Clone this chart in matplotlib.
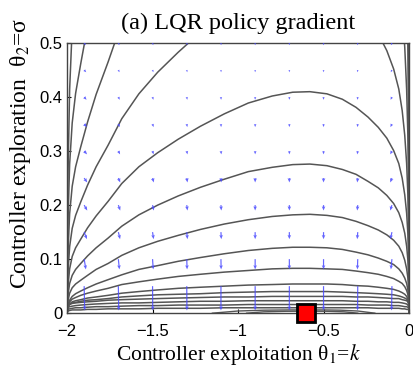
import numpy as np
import matplotlib
matplotlib.use("Agg")
import matplotlib.pyplot as plt

k_grid = [-2.0, -1.995, -1.985, -1.97, -1.95, -1.92, -1.88, -1.83, -1.76, -1.68,
          -1.58, -1.47, -1.35, -1.22, -1.08, -0.94, -0.8, -0.68, -0.58, -0.48,
          -0.39, -0.31, -0.24, -0.18, -0.13, -0.09, -0.06, -0.04, -0.025, -0.014,
          -0.007, -0.003, -0.001, 0.0]

# theta_2 = sigma of each level curve of the expected return (outermost first)
level_1 = [0, 0.248, 0.414, 0.528, 0.611, 0.693, 0.797, 0.911, 1.045, 1.211, 1.366, 1.501, 1.625, 1.749, 1.863, 1.962, 2.029,
           2.064, 2.07, 2.049, 1.998, 1.925, 1.832, 1.739, 1.635, 1.521, 1.397, 1.263, 1.107, 0.932, 0.745, 0.538, 0.331, 0]
level_2 = [0, 0.166, 0.276, 0.352, 0.407, 0.462, 0.531, 0.607, 0.697, 0.807, 0.911, 1.001, 1.083, 1.166, 1.242, 1.308, 1.352,
           1.376, 1.38, 1.366, 1.332, 1.283, 1.221, 1.159, 1.090, 1.014, 0.932, 0.842, 0.738, 0.621, 0.497, 0.359, 0.221, 0]
level_3 = [0, 0.110, 0.184, 0.235, 0.271, 0.308, 0.354, 0.405, 0.465, 0.538, 0.607, 0.667, 0.722, 0.777, 0.828, 0.872, 0.902,
           0.917, 0.92, 0.911, 0.888, 0.856, 0.814, 0.773, 0.727, 0.676, 0.621, 0.561, 0.492, 0.414, 0.331, 0.239, 0.147, 0]
level_4 = [0, 0.074, 0.123, 0.157, 0.181, 0.206, 0.237, 0.271, 0.311, 0.360, 0.406, 0.446, 0.483, 0.520, 0.554, 0.583, 0.603,
           0.613, 0.615, 0.609, 0.593, 0.572, 0.544, 0.517, 0.486, 0.452, 0.415, 0.375, 0.329, 0.277, 0.221, 0.160, 0.098, 0]
level_5 = [0, 0.049, 0.082, 0.105, 0.121, 0.137, 0.158, 0.180, 0.207, 0.240, 0.271, 0.297, 0.322, 0.346, 0.369, 0.389, 0.402,
           0.409, 0.41, 0.406, 0.396, 0.381, 0.363, 0.344, 0.324, 0.301, 0.277, 0.250, 0.219, 0.185, 0.148, 0.107, 0.066, 0]
level_6 = [0, 0.033, 0.055, 0.070, 0.081, 0.092, 0.106, 0.121, 0.139, 0.161, 0.182, 0.200, 0.217, 0.233, 0.248, 0.262, 0.270,
           0.275, 0.276, 0.273, 0.266, 0.257, 0.244, 0.232, 0.218, 0.203, 0.186, 0.168, 0.148, 0.124, 0.099, 0.072, 0.044, 0]
level_7 = [0, 0.022, 0.037, 0.047, 0.054, 0.061, 0.070, 0.081, 0.092, 0.107, 0.121, 0.133, 0.144, 0.155, 0.165, 0.173, 0.179,
           0.182, 0.183, 0.181, 0.177, 0.170, 0.162, 0.154, 0.145, 0.135, 0.124, 0.112, 0.098, 0.082, 0.066, 0.048, 0.029, 0]
level_8 = [0, 0.015, 0.024, 0.031, 0.036, 0.041, 0.047, 0.054, 0.062, 0.071, 0.081, 0.088, 0.096, 0.103, 0.110, 0.116, 0.120,
           0.122, 0.122, 0.121, 0.118, 0.113, 0.108, 0.102, 0.096, 0.090, 0.082, 0.074, 0.065, 0.055, 0.044, 0.032, 0.020, 0]
level_9 = [0, 0.014, 0.021, 0.026, 0.029, 0.033, 0.037, 0.041, 0.046, 0.053, 0.058, 0.063, 0.068, 0.072, 0.076, 0.079, 0.082,
           0.083, 0.083, 0.082, 0.081, 0.078, 0.075, 0.072, 0.068, 0.064, 0.059, 0.055, 0.049, 0.042, 0.035, 0.026, 0.018, 0]
level_10 = [0, 0.012, 0.017, 0.021, 0.023, 0.025, 0.028, 0.030, 0.033, 0.037, 0.040, 0.043, 0.046, 0.048, 0.050, 0.052, 0.053,
            0.054, 0.054, 0.054, 0.053, 0.051, 0.050, 0.048, 0.046, 0.044, 0.041, 0.038, 0.035, 0.031, 0.026, 0.021, 0.015, 0]
level_11 = [0, 0.012, 0.017, 0.019, 0.020, 0.022, 0.024, 0.025, 0.027, 0.030, 0.032, 0.034, 0.035, 0.036, 0.038, 0.039, 0.040,
            0.040, 0.040, 0.040, 0.039, 0.038, 0.037, 0.036, 0.035, 0.034, 0.032, 0.030, 0.028, 0.026, 0.023, 0.019, 0.015, 0]
level_12 = [0, 0.013, 0.016, 0.018, 0.019, 0.020, 0.021, 0.022, 0.024, 0.025, 0.026, 0.027, 0.028, 0.029, 0.030, 0.030, 0.031,
            0.031, 0.031, 0.031, 0.031, 0.030, 0.030, 0.029, 0.028, 0.027, 0.027, 0.025, 0.024, 0.023, 0.021, 0.018, 0.015, 0]
level_13 = [0, 0.010, 0.012, 0.013, 0.014, 0.015, 0.016, 0.017, 0.018, 0.019, 0.019, 0.020, 0.021, 0.022, 0.022, 0.023, 0.023,
            0.023, 0.023, 0.023, 0.023, 0.022, 0.022, 0.021, 0.021, 0.020, 0.020, 0.019, 0.018, 0.017, 0.015, 0.013, 0.011, 0]
level_14 = [0, 0.007, 0.008, 0.009, 0.010, 0.010, 0.011, 0.012, 0.012, 0.013, 0.014, 0.014, 0.015, 0.015, 0.015, 0.016, 0.016,
            0.016, 0.016, 0.016, 0.016, 0.016, 0.015, 0.015, 0.015, 0.014, 0.014, 0.013, 0.012, 0.012, 0.011, 0.009, 0.008, 0]
level_15 = [0, 0.004, 0.005, 0.006, 0.006, 0.006, 0.007, 0.007, 0.008, 0.008, 0.008, 0.009, 0.009, 0.009, 0.010, 0.010, 0.010,
            0.010, 0.010, 0.010, 0.010, 0.010, 0.010, 0.009, 0.009, 0.009, 0.009, 0.008, 0.008, 0.007, 0.007, 0.006, 0.005, 0]

# small level curves closing off around the optimum
arc1_k = [-1.15, -1.0, -0.85, -0.7, -0.6, -0.5, -0.4, -0.3, -0.2]
arc1_s = [0, 0.004, 0.0055, 0.006, 0.006, 0.006, 0.0055, 0.004, 0]
arc2_k = [-0.95, -0.85, -0.72, -0.6, -0.48, -0.38, -0.3]
arc2_s = [0, 0.0025, 0.0035, 0.0037, 0.0035, 0.0025, 0]

# gradient arrows
arrow_k = [-1.9, -1.7, -1.5, -1.3, -1.1, -0.9, -0.7, -0.5, -0.3, -0.1]
arrow_s = [0.5, 0.45, 0.4, 0.35, 0.3, 0.25, 0.2, 0.15, 0.1, 0.05]
grad_k = [
    [0.010, 0.006, 0.004, 0.003, 0.001, 0, 0, 0, -0.002, -0.006],
    [0.012, 0.007, 0.005, 0.003, 0.001, 0, 0, 0, -0.002, -0.007],
    [0.014, 0.008, 0.005, 0.003, 0.001, 0, 0, 0, -0.002, -0.008],
    [0.016, 0.009, 0.006, 0.003, 0.001, 0, 0, 0, -0.002, -0.009],
    [0.017, 0.010, 0.006, 0.004, 0.002, 0, 0, 0, -0.003, -0.010],
    [0.018, 0.011, 0.007, 0.004, 0.002, 0, 0, 0, -0.003, -0.010],
    [0.018, 0.011, 0.007, 0.004, 0.002, 0, 0, 0, -0.003, -0.010],
    [0.016, 0.010, 0.006, 0.004, 0.002, 0, 0, 0, -0.003, -0.009],
    [0.010, 0.006, 0.004, 0.002, 0.001, 0, 0, 0, -0.002, -0.006],
    [0.003, 0.002, 0.001, 0.001, 0, 0, 0, 0, -0.001, -0.002],
]
grad_s = [-0.004, -0.004, -0.005, -0.0055, -0.006, -0.008, -0.010, -0.013, -0.019, -0.045]

optimum_k = -0.6
optimum_s = 0.0

xticks = [-2, -1.5, -1, -0.5, 0]
xticklabels = ['\u22122', '\u22121.5', '\u22121', '\u22120.5', '0']
yticks = [0, 0.1, 0.2, 0.3, 0.4, 0.5]
yticklabels = ['0', '0.1', '0.2', '0.3', '0.4', '0.5']

plt.rcParams['mathtext.fontset'] = 'stix'

fig = plt.figure(figsize=(4.14, 3.68), dpi=100)
ax = fig.add_axes([0.162, 0.149, 0.826, 0.734])

levels = [level_1, level_2, level_3, level_4, level_5, level_6, level_7, level_8,
          level_9, level_10, level_11, level_12, level_13, level_14, level_15]
for curve in levels:
    ax.plot(k_grid, curve, color='#555555', lw=1.1)
ax.plot(arc1_k, arc1_s, color='#555555', lw=1.0)
ax.plot(arc2_k, arc2_s, color='#555555', lw=1.0)

KK, SS = np.meshgrid(arrow_k, arrow_s)
UU = np.array(grad_k)
VV = np.array([[v] * len(arrow_k) for v in grad_s])
ax.quiver(KK, SS, UU, VV, angles='xy', scale_units='xy', scale=1,
          color='#4a4aff', alpha=0.85, width=0.0035, headwidth=3,
          headlength=3.5, headaxislength=3, zorder=3)

ax.plot([optimum_k], [optimum_s], marker='s', ms=13, mfc='red',
        mec='black', mew=2, clip_on=False, zorder=5)

ax.set_xlim(-2, 0)
ax.set_ylim(0, 0.5)
ax.set_xticks(xticks)
ax.set_xticklabels(xticklabels, fontname='Liberation Sans', fontsize=12)
ax.set_yticks(yticks)
ax.set_yticklabels(yticklabels, fontname='Liberation Sans', fontsize=12)
ax.tick_params(axis='x', direction='in', length=3, pad=8)
ax.tick_params(axis='y', direction='in', length=3, pad=3.5)
for sp in ax.spines.values():
    sp.set_color('#444444')
    sp.set_linewidth(1.0)

ax.set_title('(a) LQR policy gradient', fontname='Liberation Serif',
             fontsize=17.5, pad=10)
ax.set_xlabel('Controller exploitation \u03b8$_1$=$k$', fontname='Liberation Serif',
              fontsize=15.5, labelpad=2)
ax.set_ylabel('Controller exploration  \u03b8$_2$=\u03c3', fontname='Liberation Serif',
              fontsize=17)
ax.yaxis.set_label_coords(-0.1, 0.59)

fig.savefig('out.png', dpi=100)
